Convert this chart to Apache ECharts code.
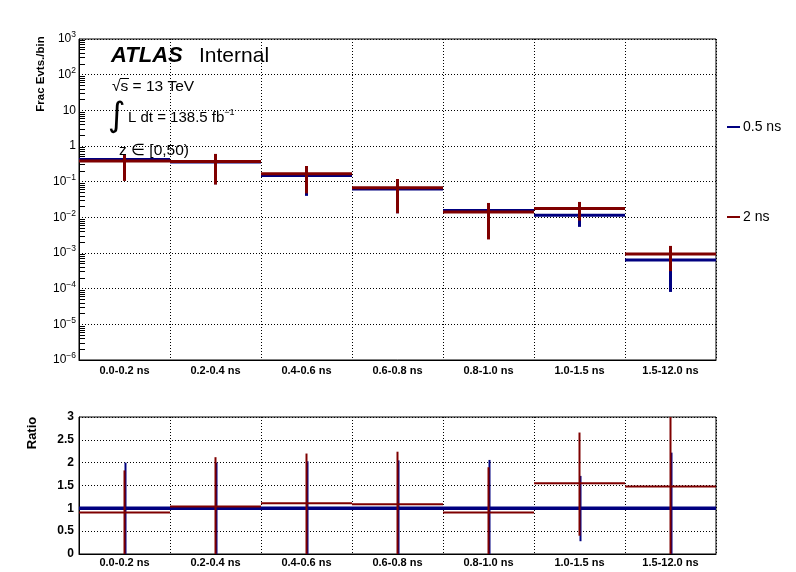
<!DOCTYPE html>
<html>
<head>
<meta charset="utf-8">
<script src="https://cdn.jsdelivr.net/npm/echarts@6/dist/echarts.min.js"></script>
<style>
  html, body { margin: 0; padding: 0; background: #fff; }
  #chart { width: 796px; height: 572px; }
</style>
</head>
<body>
<div id="chart"></div>
<script>
const bins = ["0.0-0.2 ns", "0.2-0.4 ns", "0.4-0.6 ns", "0.6-0.8 ns", "0.8-1.0 ns", "1.0-1.5 ns", "1.5-12.0 ns"];

// top panel: fraction of events per bin
const fracShort = [0.42, 0.355, 0.15, 0.062, 0.0155, 0.0115, 0.00064];
const fracShortLow = [0.11, 0.085, 0.04, 0.013, 0.003, 0.0054, 0.000081];
const fracShortHigh = [0.55, 0.58, 0.27, 0.115, 0.025, 0.025, 0.0014];
const fracLong = [0.38, 0.37, 0.168, 0.068, 0.0141, 0.0178, 0.00094];
const fracLongLow = [0.105, 0.083, 0.047, 0.013, 0.0024, 0.0081, 0.00031];
const fracLongHigh = [0.56, 0.60, 0.275, 0.119, 0.0253, 0.027, 0.00158];

// bottom panel: ratio to 0.5 ns
const ratioShort = [1, 1, 1, 1, 1, 1, 1];
const ratioShortLow = [0, 0, 0, 0, 0, 0.28, 0];
const ratioShortHigh = [2.0, 2.0, 2.03, 2.05, 2.06, 1.71, 2.22];
const ratioLong = [0.91, 1.04, 1.11, 1.09, 0.91, 1.55, 1.48];
const ratioLongLow = [0, 0, 0, 0, 0, 0.4, 0];
const ratioLongHigh = [1.83, 2.12, 2.2, 2.24, 1.9, 2.66, 3.4];

const ratioTicks = [0, 0.5, 1, 1.5, 2, 2.5, 3];

const BLUE = "#000080";
const RED = "#7f0000";
const FONT = "Liberation Sans";

const toItems = (vals, lows, highs) => vals.map((v, i) => [i, v, lows[i], highs[i]]);

const stepRenderer = (color, lineW, errW, errShift) => (params, api) => {
  const idx = api.value(0);
  const c = api.coord([idx, api.value(1)]);
  const lo = api.coord([idx, api.value(2)]);
  const hi = api.coord([idx, api.value(3)]);
  const w = api.size([1, 1])[0];
  const ex = c[0] + errShift;
  return {
    type: "group",
    children: [
      {
        type: "line",
        shape: { x1: ex, y1: lo[1], x2: ex, y2: hi[1] },
        style: { stroke: color, lineWidth: errW },
      },
      {
        type: "line",
        shape: { x1: c[0] - w / 2, y1: c[1], x2: c[0] + w / 2, y2: c[1] },
        style: { stroke: color, lineWidth: lineW },
      },
    ],
  };
};

const supMinus = (n) => (n < 0 ? "\u2212" + Math.abs(n) : String(n));

const logLabel = (value) => {
  const e = Math.round(Math.log10(value));
  if (e === 0) return "1";
  if (e === 1) return "10";
  return "10{sup|" + supMinus(e) + "}";
};

const dotted = { color: "#000", width: 1, type: [1, 2] };

const xAxisBase = (gridIndex, margin) => ({
  type: "category",
  gridIndex,
  data: bins,
  boundaryGap: true,
  axisLine: { lineStyle: { color: "#000", width: 1 } },
  axisTick: { inside: true, length: 10, lineStyle: { color: "#000" } },
  axisLabel: {
    interval: 0,
    margin,
    color: "#000",
    fontFamily: FONT,
    fontWeight: "bold",
    fontSize: 11,
  },
  splitLine: { show: true, lineStyle: dotted },
});

const chart = echarts.init(document.getElementById("chart"), null, { renderer: "canvas" });

chart.setOption({
  animation: false,
  backgroundColor: "#fff",
  textStyle: { fontFamily: FONT },
  grid: [
    { left: 79, right: 80, top: 39, height: 321, show: true, borderColor: "#000", borderWidth: 1 },
    { left: 79, right: 80, top: 417, height: 137, show: true, borderColor: "#000", borderWidth: 1 },
  ],
  legend: {
    orient: "vertical",
    left: 727,
    top: 120,
    padding: 0,
    itemWidth: 13,
    itemHeight: 2,
    itemGap: 76,
    icon: "rect",
    textStyle: { color: "#000", fontFamily: FONT, fontSize: 14, padding: [0, 0, 0, -2] },
    data: [
      { name: "0.5 ns", itemStyle: { color: BLUE } },
      { name: "2 ns", itemStyle: { color: RED } },
    ],
  },
  xAxis: [xAxisBase(0, 5), xAxisBase(1, 3)],
  yAxis: [
    {
      type: "log",
      gridIndex: 0,
      logBase: 10,
      min: 1e-6,
      max: 1e3,
      splitNumber: 9,
      axisLine: { show: true, lineStyle: { color: "#000" } },
      axisTick: { inside: true, length: 11, lineStyle: { color: "#000" } },
      minorTick: { show: true, splitNumber: 9, length: 6, lineStyle: { color: "#000" } },
      axisLabel: {
        margin: 3,
        color: "#000",
        fontFamily: FONT,
        fontSize: 12,
        formatter: logLabel,
        rich: {
          sup: { fontSize: 8.5, fontFamily: FONT, color: "#000", verticalAlign: "bottom", padding: [0, 0, 8, 0] },
        },
      },
      splitLine: { show: true, lineStyle: dotted },
    },
    {
      type: "value",
      gridIndex: 1,
      min: 0,
      max: 3,
      interval: 0.5,
      axisLine: { show: true, lineStyle: { color: "#000" } },
      axisTick: { inside: true, length: 20, lineStyle: { color: "#000" } },
      axisLabel: {
        margin: 5,
        color: "#000",
        fontFamily: FONT,
        fontWeight: "bold",
        fontSize: 12,
        formatter: (v) => (ratioTicks.includes(v) ? String(v) : ""),
      },
      splitLine: { show: true, lineStyle: dotted },
    },
  ],
  series: [
    {
      name: "0.5 ns",
      type: "custom",
      xAxisIndex: 0,
      yAxisIndex: 0,
      itemStyle: { color: BLUE },
      renderItem: stepRenderer(BLUE, 3, 3, 0),
      data: toItems(fracShort, fracShortLow, fracShortHigh),
    },
    {
      name: "2 ns",
      type: "custom",
      xAxisIndex: 0,
      yAxisIndex: 0,
      itemStyle: { color: RED },
      renderItem: stepRenderer(RED, 3, 3, 0),
      data: toItems(fracLong, fracLongLow, fracLongHigh),
    },
    {
      name: "0.5 ns",
      type: "custom",
      xAxisIndex: 1,
      yAxisIndex: 1,
      clip: true,
      itemStyle: { color: BLUE },
      renderItem: stepRenderer(BLUE, 3.5, 2, 1),
      data: toItems(ratioShort, ratioShortLow, ratioShortHigh),
    },
    {
      name: "2 ns",
      type: "custom",
      xAxisIndex: 1,
      yAxisIndex: 1,
      clip: true,
      itemStyle: { color: RED },
      renderItem: stepRenderer(RED, 2, 2, 0),
      data: toItems(ratioLong, ratioLongLow, ratioLongHigh),
    },
  ],
  graphic: [
    {
      type: "text", x: 41, y: 74, rotation: Math.PI / 2,
      style: { text: "Frac Evts./bin", font: "bold 11.5px " + FONT, fill: "#000", align: "center", verticalAlign: "middle" },
    },
    {
      type: "text", x: 32, y: 433, rotation: Math.PI / 2,
      style: { text: "Ratio", font: "bold 13px " + FONT, fill: "#000", align: "center", verticalAlign: "middle" },
    },
    {
      type: "text", x: 111, y: 56,
      style: { text: "ATLAS", font: "italic bold 22px " + FONT, fill: "#000", verticalAlign: "middle" },
    },
    {
      type: "text", x: 199, y: 56,
      style: { text: "Internal", font: "21px " + FONT, fill: "#000", verticalAlign: "middle" },
    },
    {
      type: "text", x: 112, y: 87,
      style: { text: "\u221as = 13 TeV", font: "15.5px " + FONT, fill: "#000", verticalAlign: "middle" },
    },
    {
      type: "line", shape: { x1: 120, y1: 78.5, x2: 129, y2: 78.5 },
      style: { stroke: "#000", lineWidth: 1 },
    },
    {
      type: "text", x: 108, y: 117,
      style: { text: "\u222b", font: "34px 'DejaVu Sans'", fill: "#000", verticalAlign: "middle" },
    },
    {
      type: "text", x: 128, y: 118,
      style: {
        text: "L dt = 138.5 fb{sup|\u22121}",
        font: "15px " + FONT,
        fill: "#000",
        verticalAlign: "middle",
        rich: { sup: { fontSize: 9, fontFamily: FONT, fill: "#000", verticalAlign: "bottom", padding: [0, 0, 10, 0] } },
      },
    },
    {
      type: "text", x: 119, y: 151,
      style: { text: "z \u2208 [0,50)", font: "15.5px " + FONT, fill: "#000", verticalAlign: "middle" },
    },
  ],
});
</script>
</body>
</html>
